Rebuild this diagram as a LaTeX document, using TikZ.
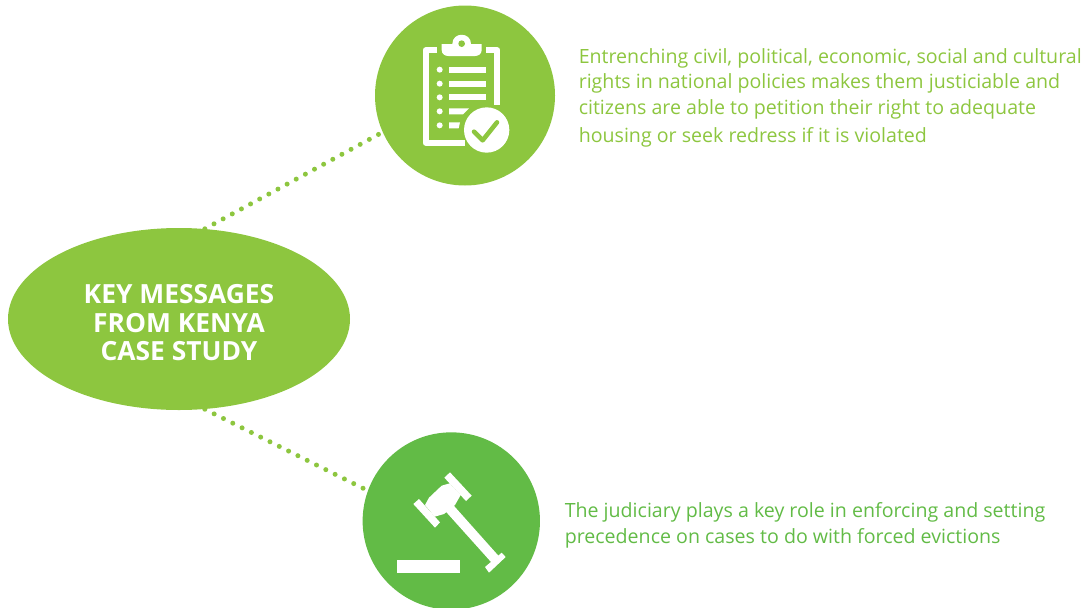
\documentclass[tikz,border=0pt]{standalone}
\usepackage{fontspec}
\setmainfont{Open Sans}
\usepackage{tikz}
\usetikzlibrary{shapes.geometric}
\definecolor{leafgreen}{RGB}{141,198,63}
\definecolor{grassgreen}{RGB}{98,187,70}
\tikzset{
  bubble/.style={circle,inner sep=0pt,minimum size=135pt},
  dotline/.style={leafgreen,line width=3.75pt,line cap=round,dash pattern=on 0pt off 7.8pt},
  msgtext/.style={anchor=north west,inner sep=0.75pt,align=left,font=\fontsize{14.7}{19.3}\selectfont}
}
\begin{document}
\begin{tikzpicture}[x=0.75pt,y=0.75pt,yscale=-1,xscale=1]
\useasboundingbox (0,0) rectangle (1087,607);

%Ellipse and circles
\node [ellipse,fill=leafgreen,inner sep=0pt,minimum width=256.5pt,minimum height=136.5pt,align=center,text=white,font=\fontsize{19.8}{21.4}\selectfont\bfseries] (key) at (179,319) {\rule{0pt}{20pt}KEY MESSAGES\\FROM KENYA\\CASE STUDY};
\node [bubble,fill=leafgreen] (check) at (465,95.5) {};
\node [bubble,fill=grassgreen,minimum size=133pt] (gavel) at (451.3,521) {};

%Dotted connectors
\draw [dotline] (key.74) -- (check.204);
\draw [dotline] (key.-74) -- (gavel.160);

%Clipboard icon
\begin{scope}[shift={(370,0)},x=0.25pt,y=0.25pt]
\draw [white,line width=4.6pt,line join=round] (201,151) -- (167,151) -- (167,428) -- (285,428);
\draw [white,line width=4.6pt,line join=round] (348,151) -- (382,151) -- (382,315);
\fill [white] (215,132) -- (247,132) .. controls (247,95) and (303,95) .. (303,132) -- (335,132) -- (335,150) .. controls (335,162) and (325,168) .. (315,168) -- (235,168) .. controls (225,168) and (215,162) .. (215,150) -- cycle;
\fill [leafgreen] (275,131) circle (10);
\foreach \y in {200,243,282} {
  \fill [white] (237,\y) rectangle (348,\y+18);
}
\fill [white] (237,325) -- (297,325) -- (279,343) -- (237,343) -- cycle;
\fill [white] (237,367) -- (270,367) -- (266,385) -- (237,385) -- cycle;
\foreach \y in {209,251,292,334,376} {
  \fill [white] (209,\y) circle (9);
}
\fill [white] (350,390) circle (68);
\draw [leafgreen,line width=3.4pt,line cap=round,line join=round] (312,395) -- (338,421) -- (381,367);
\end{scope}

%Gavel icon
\begin{scope}[shift={(360,430)},x=0.25pt,y=0.25pt]
\fill [white] (160,222) -- (177,207) -- (240,277) -- (225,293) -- cycle;
\fill [white] (253,143) -- (270,127) -- (335,197) -- (318,213) -- cycle;
\fill [white] (195,225) -- (207,203) -- (245,167) -- (269,160) -- (302,195) -- (285,225) -- (252,252) -- (224,260) -- cycle;
\fill [white] (246,232) -- (268,212) -- (416,378) -- (394,397) -- cycle;
\fill [white] (375,411) -- (425,368) -- (437,381) -- (387,428) -- cycle;
\fill [white] (111,390) rectangle (300,428);
\end{scope}

% Text Node
\node [msgtext,text=leafgreen] (rights) at (577.5,47) {Entrenching civil, political, economic, social and cultural\\rights in national policies makes them justiciable and\\citizens are able to petition their right to adequate\\[1.5pt]housing or seek redress if it is violated};
% Text Node
\node [msgtext,text=grassgreen] (judiciary) at (563.5,501) {The judiciary plays a key role in enforcing and setting\\precedence on cases to do with forced evictions};
\end{tikzpicture}
\end{document}
